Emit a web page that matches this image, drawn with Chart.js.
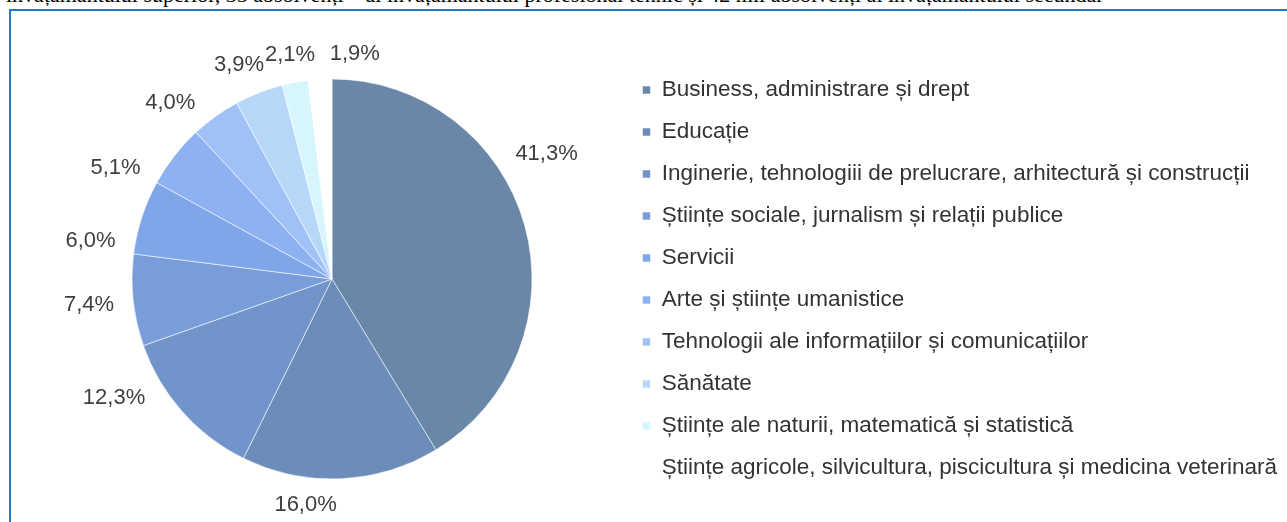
<!DOCTYPE html>
<html lang="ro">
<head>
<meta charset="utf-8">
<title>Absolvenți pe domenii</title>
<script src="https://cdn.jsdelivr.net/npm/chart.js@4.4.1/dist/chart.umd.min.js"></script>
<style>
  html, body { margin: 0; padding: 0; background: #fff; overflow: hidden; width: 1287px; height: 522px; }
  #intro {
    position: absolute; left: 6px; top: -16px; white-space: nowrap;
    font-family: "Liberation Serif", "Times New Roman", serif; font-size: 22px; line-height: 22px; color: #000;
  }
  #frame {
    position: absolute; left: 9px; top: 9px; width: 1400px; height: 600px;
    border-top: 2px solid #2179cc; border-left: 2px solid #2179cc;
  }
  #wrap { position: absolute; left: 0; top: 0; width: 1287px; height: 522px; }
</style>
</head>
<body>
<div id="intro">învățământului superior, 35 absolvenți – ai învățământului profesional tehnic și 42 mii absolvenți ai învățământului secundar</div>
<div id="frame"></div>
<div id="wrap"><canvas id="myChart"></canvas></div>
<script>
const categories = [
  'Business, administrare și drept',
  'Educație',
  'Inginerie, tehnologiii de prelucrare, arhitectură și construcții',
  'Științe sociale, jurnalism și relații publice',
  'Servicii',
  'Arte și științe umanistice',
  'Tehnologii ale informațiilor și comunicațiilor',
  'Sănătate',
  'Științe ale naturii, matematică și statistică',
  'Științe agricole, silvicultura, piscicultura și medicina veterinară'
];
const shares = [41.3, 16.0, 12.3, 7.4, 6.0, 5.1, 4.0, 3.9, 2.1, 1.9];
const sliceColors = [
  '#6a87a8', '#6c8cba', '#7194cb', '#789dd9', '#80a6ea',
  '#8db1f1', '#9fc1f5', '#b7d7f9', '#d6f5fd', '#ffffff'
];

// etichete procentuale in afara feliilor
const pieLabels = {
  id: 'pieLabels',
  afterDatasetsDraw(chart, args, opts) {
    const ctx = chart.ctx;
    const meta = chart.getDatasetMeta(0);
    ctx.save();
    ctx.font = opts.size + 'px ' + opts.family;
    ctx.fillStyle = opts.color;
    ctx.textAlign = 'center';
    ctx.textBaseline = 'middle';
    meta.data.forEach((arc, i) => {
      const p = arc.getProps(['x', 'y', 'startAngle', 'endAngle', 'outerRadius']);
      const a = (p.startAngle + p.endAngle) / 2 + (opts.nudge[i] || 0) * Math.PI / 180;
      const text = shares[i].toFixed(1).replace('.', ',') + '%';
      const w = ctx.measureText(text).width;
      const d = p.outerRadius + opts.gap + Math.abs(Math.cos(a)) * w / 2 + Math.abs(Math.sin(a)) * opts.size * 0.2;
      ctx.fillText(text, p.x + Math.cos(a) * d, p.y + Math.sin(a) * d);
    });
    ctx.restore();
  }
};

const ctx = document.getElementById('myChart').getContext('2d');
const myChart = new Chart(ctx, {
  type: 'pie',
  data: {
    labels: categories,
    datasets: [{
      data: shares,
      backgroundColor: sliceColors,
      borderColor: 'rgba(255,255,255,0.55)',
      borderWidth: 1,
      radius: 200
    }]
  },
  plugins: [pieLabels],
  options: {
    responsive: true,
    maintainAspectRatio: false,
    animation: false,
    layout: {
      padding: { left: 41, top: 36, right: 0, bottom: 0 }
    },
    plugins: {
      tooltip: { enabled: false },
      legend: {
        position: 'right',
        align: 'center',
        maxWidth: 2000,
        labels: {
          boxWidth: 8,
          boxHeight: 8,
          padding: 19.5,
          color: '#333333',
          font: { family: "'Liberation Sans', Arial, sans-serif", size: 22.5 }
        }
      },
      pieLabels: {
        family: "'Liberation Sans', Arial, sans-serif",
        size: 22,
        color: '#404040',
        gap: 19,
        nudge: [-14.5, 9.2, 12.9, 0, -9.1, -10.8, -6.9, -2.1, 0, 9.2]
      }
    }
  }
});
</script>
</body>
</html>
